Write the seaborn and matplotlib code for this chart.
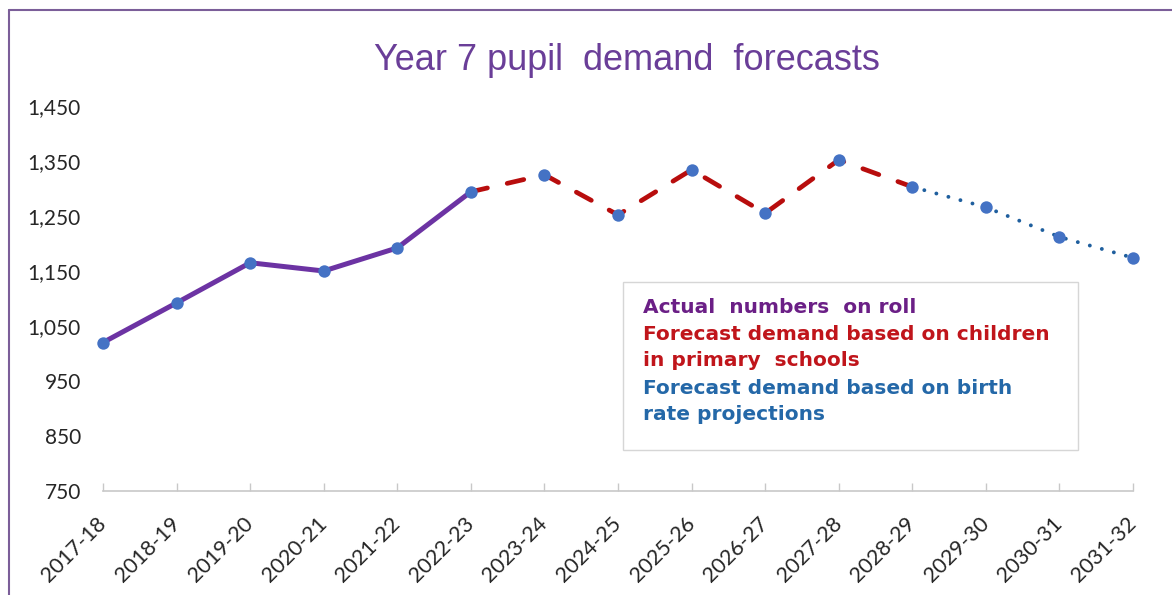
import matplotlib
matplotlib.use("Agg")
import matplotlib.pyplot as plt
from matplotlib.patches import Rectangle
from matplotlib.lines import Line2D
import seaborn as sns
import pandas as pd

# School years on the category axis
years = ["2017-18", "2018-19", "2019-20", "2020-21", "2021-22", "2022-23",
         "2023-24", "2024-25", "2025-26", "2026-27", "2027-28", "2028-29",
         "2029-30", "2030-31", "2031-32"]

# Year 7 numbers: actual roll, then two forecast methods
actual_on_roll = [1020, 1092, 1165, 1150, 1192, 1294]
forecast_primary = [1294, 1325, 1252, 1334, 1255, 1352, 1303]
forecast_birth_rate = [1303, 1266, 1212, 1174]

y_ticks = [750, 850, 950, 1050, 1150, 1250, 1350, 1450]

title_text = "Year 7 pupil  demand  forecasts"
legend_lines = [
    ("Actual  numbers  on roll", "#6B1F86"),
    ("Forecast demand based on children", "#C0151B"),
    ("in primary  schools", "#C0151B"),
    ("Forecast demand based on birth", "#2468A8"),
    ("rate projections", "#2468A8"),
]

PURPLE = "#6C33A3"
RED = "#B80D0D"
BLUE_DOT = "#1F5F9E"
MARKER = "#4472C4"

sns.set_theme(style="white")
plt.rcParams["font.family"] = ["Lato", "DejaVu Sans"]

W, H = 1172, 595
fig = plt.figure(figsize=(W / 100, H / 100), dpi=100)
ax = fig.add_axes([103 / W, 1 - 491 / H, 1030 / W, 385 / H])

idx = list(range(len(years)))
df_actual = pd.DataFrame({"i": idx[:6], "v": actual_on_roll})
df_prim = pd.DataFrame({"i": idx[5:12], "v": forecast_primary})
df_birth = pd.DataFrame({"i": idx[11:], "v": forecast_birth_rate})

sns.lineplot(data=df_actual, x="i", y="v", ax=ax, color=PURPLE,
             linewidth=3.6, solid_capstyle="round", zorder=3)
sns.lineplot(data=df_prim, x="i", y="v", ax=ax, color=RED,
             linewidth=3.4, linestyle=(0, (3.6, 4.3)),
             dash_capstyle="round", zorder=3)
sns.lineplot(data=df_birth, x="i", y="v", ax=ax, color=BLUE_DOT,
             linewidth=2.8, linestyle=(0, (0.01, 3.2)),
             dash_capstyle="round", zorder=3)

all_points = pd.DataFrame({
    "i": idx,
    "v": actual_on_roll + forecast_primary[1:] + forecast_birth_rate[1:],
})
sns.scatterplot(data=all_points, x="i", y="v", ax=ax, color=MARKER,
                s=80, linewidth=0, zorder=4, clip_on=False)

ax.set_xlim(0, len(years) - 1)
ax.set_ylim(750, 1450)
ax.set_xlabel("")
ax.set_ylabel("")
ax.set_xticks(idx)
ax.set_xticklabels(years, rotation=45, ha="right", va="center",
                   rotation_mode="anchor", fontsize=15.5, color="#262626")
ax.set_yticks(y_ticks)
ax.set_yticklabels([f"{t:,}" for t in y_ticks], fontsize=15, color="#262626")
ax.tick_params(axis="y", length=0, pad=16)
ax.tick_params(axis="x", direction="in", length=6, width=1, color="#C8C8C8",
               pad=21, bottom=True)
for side in ("top", "right", "left"):
    ax.spines[side].set_visible(False)
ax.spines["bottom"].set_color("#C8C8C8")
ax.spines["bottom"].set_linewidth(1.2)
ax.grid(False)
ax.set_facecolor("none")

# Title
fig.text(627 / W, 1 - 61 / H, title_text, ha="center", va="center",
         fontsize=26, color="#6A3E98", family=["Liberation Sans", "DejaVu Sans"])

# Boxed key describing the three series
fig.patches.append(Rectangle((623 / W, 1 - 450 / H), 455 / W, 168 / H,
                             transform=fig.transFigure, facecolor="white",
                             edgecolor="#D6D6D6", linewidth=1.0, zorder=5))
line_y = [307, 334, 361, 388, 415]
for (txt, col), yy in zip(legend_lines, line_y):
    fig.text(643 / W, 1 - yy / H, txt, ha="left", va="center", fontsize=14.5,
             fontweight="bold", color=col, zorder=6,
             family=["DejaVu Sans"])

# Chart-area border (left and top edges)
border = "#7B5E99"
fig.lines.append(Line2D([9 / W, 9 / W], [0, 1 - 10 / H], transform=fig.transFigure,
                        color=border, linewidth=1.5))
fig.lines.append(Line2D([9 / W, 1], [1 - 10 / H, 1 - 10 / H], transform=fig.transFigure,
                        color=border, linewidth=1.5))

fig.savefig("out.png", dpi=100, facecolor="white")
